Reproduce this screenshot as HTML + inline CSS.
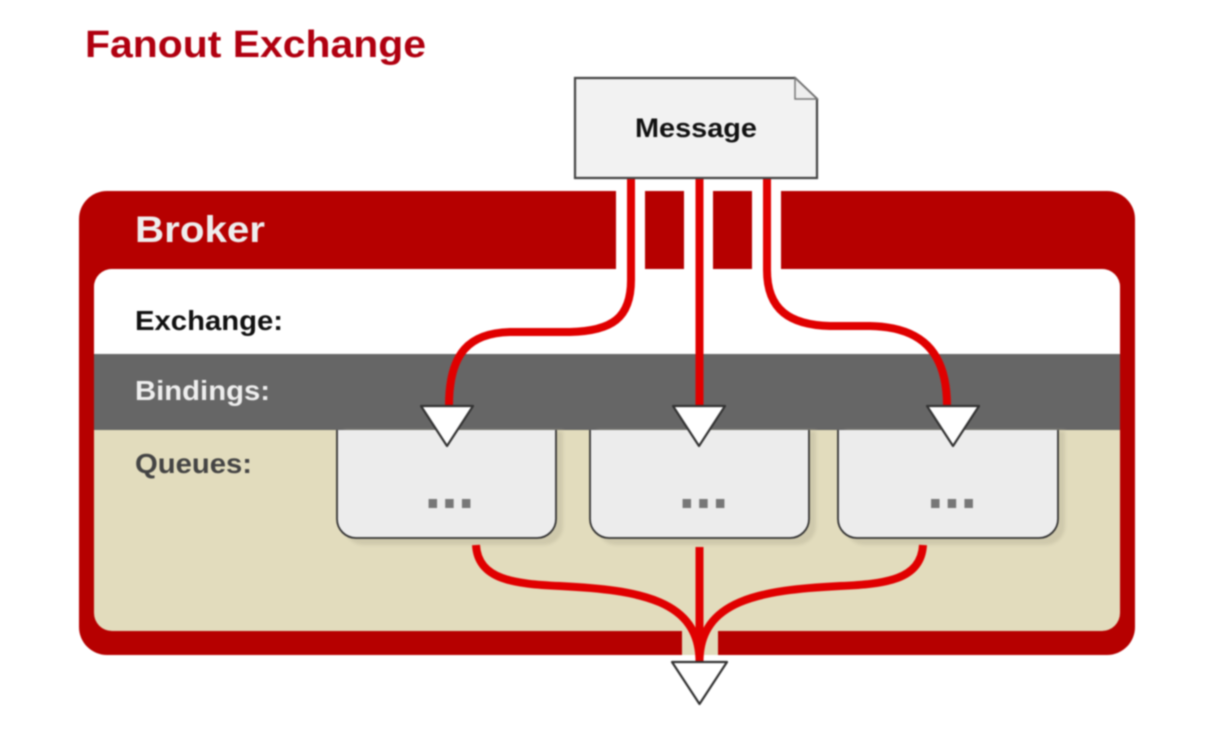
<!DOCTYPE html>
<html>
<head>
<meta charset="utf-8">
<style>
html,body{margin:0;padding:0;background:#fff;width:1222px;height:740px;overflow:hidden}
svg{display:block;filter:blur(0.8px)}
text{font-family:"Liberation Sans",sans-serif;font-weight:bold}
</style>
</head>
<body>
<svg width="1222" height="740" viewBox="0 0 1222 740" xmlns="http://www.w3.org/2000/svg">
<defs>
<filter id="s" x="-10%" y="-10%" width="120%" height="120%"><feGaussianBlur stdDeviation="1.5"/></filter>
</defs>
<rect width="1222" height="740" fill="#fff"/>
<text x="85" y="57" font-size="38" fill="#b00010" textLength="341" lengthAdjust="spacingAndGlyphs">Fanout Exchange</text>

<!-- Broker -->
<rect x="79" y="191" width="1056" height="464" rx="28" fill="#b60000"/>
<rect x="94" y="269" width="1026" height="362" rx="18" fill="#e2dcbd"/>
<path d="M94 354V287a18 18 0 0 1 18-18H1102a18 18 0 0 1 18 18V354Z" fill="#fff"/>
<rect x="94" y="354" width="1026" height="76" fill="#666"/>

<!-- gaps -->
<rect x="616" y="188" width="29" height="82" fill="#fff"/>
<rect x="684" y="188" width="29" height="82" fill="#fff"/>
<rect x="752" y="188" width="29" height="82" fill="#fff"/>
<rect x="682" y="630" width="36" height="26" fill="#e2dcbd"/>
<rect x="682" y="655" width="36" height="2" fill="#fff"/>

<text x="135" y="242" font-size="37" fill="#eee" textLength="130" lengthAdjust="spacingAndGlyphs">Broker</text>
<text x="135" y="330" font-size="28" fill="#111" textLength="148" lengthAdjust="spacingAndGlyphs">Exchange:</text>
<text x="135" y="400" font-size="28" fill="#eee" textLength="135" lengthAdjust="spacingAndGlyphs">Bindings:</text>
<text x="135" y="473" font-size="28" fill="#444" textLength="117" lengthAdjust="spacingAndGlyphs">Queues:</text>

<!-- Queues -->
<g filter="url(#s)">
<path d="M344 431H563V526a19 19 0 0 1-19 19H363a19 19 0 0 1-19-19Z" fill="#cfc9ac"/>
<path d="M597 431H816V526a19 19 0 0 1-19 19H616a19 19 0 0 1-19-19Z" fill="#cfc9ac"/>
<path d="M845 431H1065V526a19 19 0 0 1-19 19H864a19 19 0 0 1-19-19Z" fill="#cfc9ac"/>
</g>
<path d="M337 430V519a19 19 0 0 0 19 19H537a19 19 0 0 0 19-19V430" fill="#ececec" stroke="#333" stroke-width="1.8"/>
<path d="M590 430V519a19 19 0 0 0 19 19H790a19 19 0 0 0 19-19V430" fill="#ececec" stroke="#333" stroke-width="1.8"/>
<path d="M838 430V519a19 19 0 0 0 19 19H1039a19 19 0 0 0 19-19V430" fill="#ececec" stroke="#333" stroke-width="1.8"/>
<text x="449.500" y="508" font-size="60" fill="#777" text-anchor="middle">...</text>
<text x="703.500" y="508" font-size="60" fill="#777" text-anchor="middle">...</text>
<text x="952" y="508" font-size="60" fill="#777" text-anchor="middle">...</text>

<!-- Connectors -->
<g fill="none" stroke="#e00000" stroke-width="8">
<path d="M631 178V280C631 318 612 331 570 332H510C470 333 449 352 449 406"/>
<path d="M699.500 178V406"/>
<path d="M767 178V270C767 310 790 325 830 326H870C920 327 947 350 947 406"/>
<path d="M476 545C478 580 515 584 560 586C640 590 699.500 600 699.500 662"/>
<path d="M699.500 547V662"/>
<path d="M923 545C921 580 885 584 840 586C760 590 699.500 600 699.500 662"/>
</g>

<!-- Arrowheads -->
<g fill="#fff" stroke="#333" stroke-width="2.2" stroke-linejoin="round">
<path d="M421 406H473L447 446Z"/>
<path d="M673 406H725L699 446Z"/>
<path d="M927 406H979L953 446Z"/>
<path d="M672 662H727L699.500 704Z"/>
</g>

<!-- Message -->
<path d="M575 78H795L817 99V178H575Z" fill="#f2f2f2" stroke="#444" stroke-width="2.2"/>
<path d="M795 78V99H817Z" fill="#eee" stroke="#777" stroke-width="1.5"/>
<text x="635" y="137" font-size="27" fill="#111" textLength="122" lengthAdjust="spacingAndGlyphs">Message</text>
</svg>
</body>
</html>
